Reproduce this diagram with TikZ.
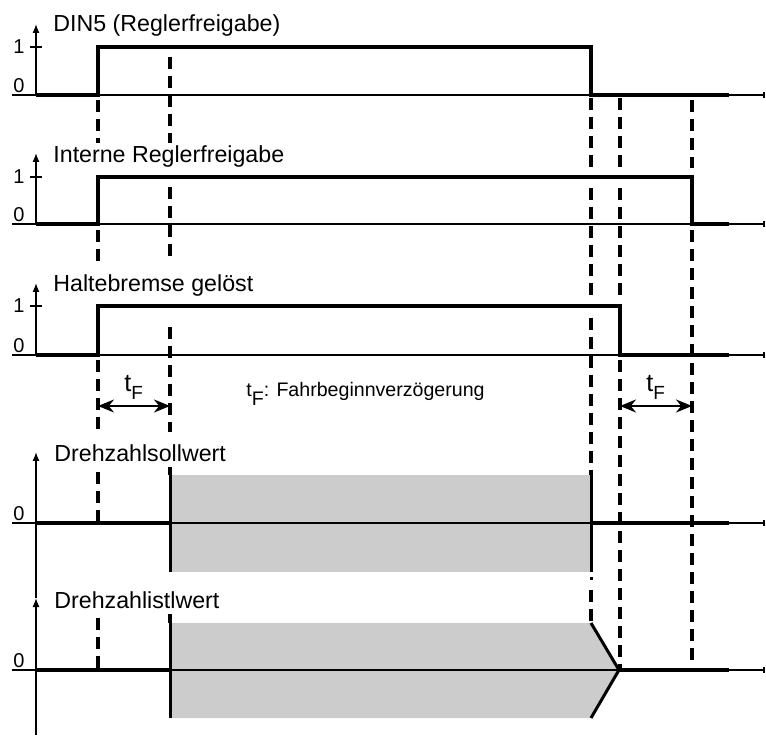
\documentclass[tikz,border=0pt]{standalone}
\usepackage{fontspec}
\setmainfont{Liberation Sans}
\usetikzlibrary{arrows.meta}
\begin{document}
\begin{tikzpicture}[x=0.5pt,y=-0.5pt,
 sig/.style={line width=1.6pt},
 ax/.style={line width=0.65pt},
 vax/.style={line width=0.65pt,-{Latex[length=4.5pt,width=3.5pt]}},
 dsh/.style={line width=1.7pt,dash pattern=on 6pt off 3.5pt},
 edge/.style={line width=1.5pt},
 ttl/.style={font=\fontsize{11.6}{13}\selectfont,anchor=base west,inner sep=0},
 lvl/.style={font=\fontsize{10}{11}\selectfont,inner sep=0},
 tlab/.style={font=\fontsize{12.5}{14}\selectfont,anchor=base west,inner sep=0},
 note/.style={font=\fontsize{9.8}{11}\selectfont,anchor=base west,inner sep=0},
 dim/.style={line width=1.1pt,{Stealth[length=8pt,width=6.5pt]}-{Stealth[length=8pt,width=6.5pt]}},
 fillg/.style={fill=black!20,draw=none}]
\useasboundingbox (0,0) rectangle (766,737);

% gray areas
\fill[fillg] (170,475) rectangle (591,572);
\fill[fillg] (170,623) -- (591,623) -- (619,670) -- (591,718) -- (170,718) -- cycle;

% dashed guide lines
\foreach \a/\b in {100/143,230/262,360/432,472/523,618/670}
  \draw[dsh] (98,\a) -- (98,\b);
\foreach \a/\b in {57/143,187/258,327/432,467/475,614/623}
  \draw[dsh] (170,\a) -- (170,\b);
\foreach \a/\b in {98/168,188/297,318/475,590/623}
  \draw[dsh] (591,\a) -- (591,\b);
\draw[line width=1.5pt] (591,577) -- (591,580);
\foreach \a/\b in {98/168,188/297,360/670}
  \draw[dsh] (620,\a) -- (620,\b);
\foreach \a/\b in {100/168,230/663}
  \draw[dsh] (692,\a) -- (692,\b);

% horizontal axes
\foreach \y in {95,224,355,523,670}{
  \draw[ax] (12,\y) -- (764,\y);
  \draw[ax] (764,\y-3) -- (764,\y+3);
}
% vertical axes
\draw[vax] (36,95) -- (36,24);
\draw[vax] (36,224) -- (36,153);
\draw[vax] (36,355) -- (36,283);
\draw[vax] (36,598) -- (36,452);
\draw[vax] (36,735) -- (36,598);
% level-1 ticks
\foreach \y in {47,177,306} \draw[ax] (30,\y) -- (42,\y);

% labels
\node[lvl] (one1) at (19,47) {1};
\node[lvl] (zero1) at (19,86) {0};
\node[lvl] (one2) at (19,177) {1};
\node[lvl] (zero2) at (19,215) {0};
\node[lvl] (one3) at (19,306) {1};
\node[lvl] (zero3) at (19,346) {0};
\node[lvl] (zero4) at (19,514) {0};
\node[lvl] (zero5) at (19,661) {0};

\node[ttl] (t1) at (53,32) {DIN5 (Reglerfreigabe)};
\node[ttl] (t2) at (53,163) {Interne Reglerfreigabe};
\node[ttl] (t3) at (53,292) {Haltebremse gelöst};
\node[ttl] (t4) at (54,462) {Drehzahlsollwert};
\node[ttl] (t5) at (54,608) {Drehzahlistlwert};

% signals
\draw[sig] (36,95) -- (98,95) -- (98,47) -- (591,47) -- (591,95) -- (729,95);
\draw[sig] (36,224) -- (98,224) -- (98,177) -- (692,177) -- (692,224) -- (729,224);
\draw[sig] (36,355) -- (98,355) -- (98,306) -- (620,306) -- (620,355) -- (729,355);
\draw[sig] (36,523) -- (170,523);
\draw[sig] (591,523) -- (729,523);
\draw[edge] (170,475) -- (170,572);
\draw[edge] (591,475) -- (591,572);
\draw[sig] (36,670) -- (170,670);
\draw[sig] (619,670) -- (729,670);
\draw[edge] (170,623) -- (170,718);
\draw[edge] (591,623) -- (619,670) -- (591,718);

% tF dimensions
\coordinate (dl1) at (98,406);
\coordinate (dl2) at (170,406);
\coordinate (dr1) at (620,406);
\coordinate (dr2) at (692,406);
\draw[dim] (dl1) -- (dl2);
\draw[dim] (dr1) -- (dr2);
\node[tlab] (tfl) at (124,392) {t\raisebox{-4pt}{\fontsize{9.5}{9}\selectfont F}};
\node[tlab] (tfr) at (646,392) {t\raisebox{-4pt}{\fontsize{9.5}{9}\selectfont F}};
\node[note] (tfn) at (246,397) {t\raisebox{-4.5pt}{F}: Fahrbeginnverzögerung};
\end{tikzpicture}
\end{document}
